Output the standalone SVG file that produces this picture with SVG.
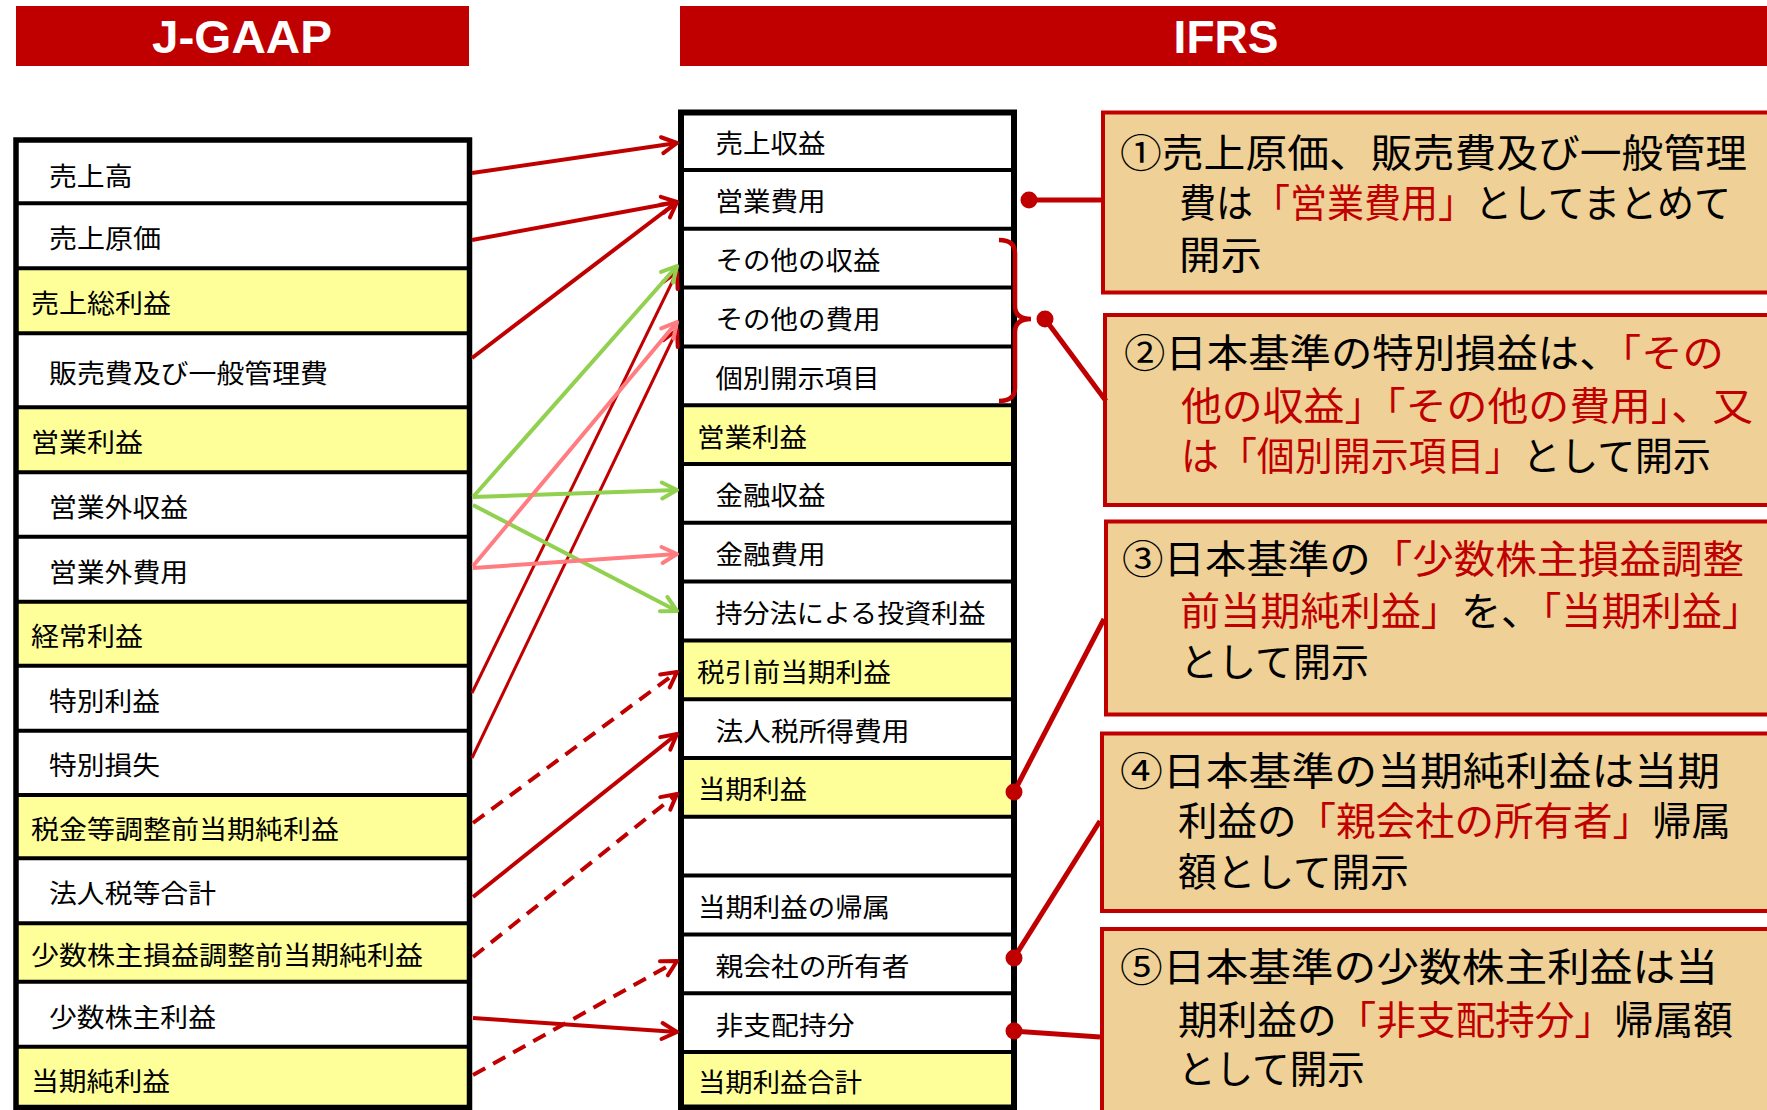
<svg xmlns="http://www.w3.org/2000/svg" width="1767" height="1110" viewBox="0 0 1767 1110">
<defs>
<style>
.t{font-family:"Noto Sans CJK JP","Noto Sans CJK SC",sans-serif;font-size:26px;fill:#000}
.b{font-family:"Noto Sans CJK JP","Noto Sans CJK SC",sans-serif;font-size:39px;fill:#000}
.r{fill:#C00000}
.ban{font-family:"Liberation Sans",Arial,sans-serif;font-size:46px;font-weight:bold;fill:#fff}
.w{fill:#fff}
.y{fill:#FFFF99}
.sep{stroke:#000;stroke-width:4}
.box{fill:#EFD096;stroke:#C00000;stroke-width:4}
.ar{fill:none;stroke:#C00000;stroke-width:4}
.ar3{fill:none;stroke:#C00000;stroke-width:3}
.ad{fill:none;stroke:#C00000;stroke-width:4;stroke-dasharray:14 9}
.ag{fill:none;stroke:#92D050;stroke-width:4}
.ap{fill:none;stroke:#FF7C80;stroke-width:4}
.cn{fill:none;stroke:#C00000;stroke-width:5}
.dot{fill:#C00000}
</style>
<marker id="mr" markerUnits="userSpaceOnUse" viewBox="0 0 20 20" refX="18" refY="10" markerWidth="20" markerHeight="20" orient="auto" overflow="visible"><path d="M3,2 L18,10 L3,18" fill="none" stroke="#C00000" stroke-width="4" stroke-linecap="round" stroke-linejoin="round"/></marker>
<marker id="mg" markerUnits="userSpaceOnUse" viewBox="0 0 20 20" refX="18" refY="10" markerWidth="20" markerHeight="20" orient="auto" overflow="visible"><path d="M3,2 L18,10 L3,18" fill="none" stroke="#92D050" stroke-width="4" stroke-linecap="round" stroke-linejoin="round"/></marker>
<marker id="mp" markerUnits="userSpaceOnUse" viewBox="0 0 20 20" refX="18" refY="10" markerWidth="20" markerHeight="20" orient="auto" overflow="visible"><path d="M3,2 L18,10 L3,18" fill="none" stroke="#FF7C80" stroke-width="4" stroke-linecap="round" stroke-linejoin="round"/></marker>
</defs>
<rect width="1767" height="1110" fill="#fff"/>

<g id="banner-jgaap"><rect x="16" y="6" width="453" height="60" fill="#C00000"/><text class="ban" x="242" y="53" text-anchor="middle" textLength="180" lengthAdjust="spacingAndGlyphs">J-GAAP</text></g>
<g id="banner-ifrs"><rect x="680" y="6" width="1087" height="60" fill="#C00000"/><text class="ban" x="1226" y="53" text-anchor="middle">IFRS</text></g>

<g id="jgaap-table">
<rect class="w" x="16" y="140" width="453" height="64"/>
<rect class="w" x="16" y="203" width="453" height="66"/>
<rect class="y" x="16" y="268" width="453" height="66"/>
<rect class="w" x="16" y="333" width="453" height="75"/>
<rect class="y" x="16" y="407" width="453" height="66"/>
<rect class="w" x="16" y="472" width="453" height="65"/>
<rect class="w" x="16" y="536" width="453" height="66"/>
<rect class="y" x="16" y="601" width="453" height="65"/>
<rect class="w" x="16" y="665" width="453" height="66"/>
<rect class="w" x="16" y="730" width="453" height="65"/>
<rect class="y" x="16" y="795" width="453" height="64"/>
<rect class="w" x="16" y="858" width="453" height="66"/>
<rect class="y" x="16" y="923" width="453" height="59"/>
<rect class="w" x="16" y="981" width="453" height="66"/>
<rect class="y" x="16" y="1046" width="453" height="62"/>
<g class="sep">
<line x1="16" y1="203.3" x2="469" y2="203.3"/><line x1="16" y1="268.3" x2="469" y2="268.3"/><line x1="16" y1="333.3" x2="469" y2="333.3"/><line x1="16" y1="407.3" x2="469" y2="407.3"/><line x1="16" y1="472.3" x2="469" y2="472.3"/><line x1="16" y1="536.7" x2="469" y2="536.7"/><line x1="16" y1="601.7" x2="469" y2="601.7"/><line x1="16" y1="665.7" x2="469" y2="665.7"/><line x1="16" y1="730.7" x2="469" y2="730.7"/><line x1="16" y1="795" x2="469" y2="795"/><line x1="16" y1="858.3" x2="469" y2="858.3"/><line x1="16" y1="923.3" x2="469" y2="923.3"/><line x1="16" y1="981.7" x2="469" y2="981.7"/><line x1="16" y1="1046.7" x2="469" y2="1046.7"/>
</g>
<rect x="16" y="140" width="453.5" height="967.5" fill="none" stroke="#000" stroke-width="5.5"/>
<g id="j-r0"><text class="t" x="49" y="186" textLength="83.5" lengthAdjust="spacingAndGlyphs">売上高</text></g>
<g id="j-r1"><text class="t" x="49" y="248" textLength="112" lengthAdjust="spacingAndGlyphs">売上原価</text></g>
<g id="j-r2"><text class="t" x="31" y="313" textLength="140" lengthAdjust="spacingAndGlyphs">売上総利益</text></g>
<g id="j-r3"><text class="t" x="49" y="383" textLength="279" lengthAdjust="spacingAndGlyphs">販売費及び一般管理費</text></g>
<g id="j-r4"><text class="t" x="31" y="452" textLength="112" lengthAdjust="spacingAndGlyphs">営業利益</text></g>
<g id="j-r5"><text class="t" x="49" y="517" textLength="139" lengthAdjust="spacingAndGlyphs">営業外収益</text></g>
<g id="j-r6"><text class="t" x="49" y="581.5" textLength="139" lengthAdjust="spacingAndGlyphs">営業外費用</text></g>
<g id="j-r7"><text class="t" x="31" y="646" textLength="112" lengthAdjust="spacingAndGlyphs">経常利益</text></g>
<g id="j-r8"><text class="t" x="49" y="710.5" textLength="111" lengthAdjust="spacingAndGlyphs">特別利益</text></g>
<g id="j-r9"><text class="t" x="49" y="775" textLength="111" lengthAdjust="spacingAndGlyphs">特別損失</text></g>
<g id="j-r10"><text class="t" x="31" y="839" textLength="308" lengthAdjust="spacingAndGlyphs">税金等調整前当期純利益</text></g>
<g id="j-r11"><text class="t" x="49" y="903" textLength="167" lengthAdjust="spacingAndGlyphs">法人税等合計</text></g>
<g id="j-r12"><text class="t" x="31" y="965" textLength="392" lengthAdjust="spacingAndGlyphs">少数株主損益調整前当期純利益</text></g>
<g id="j-r13"><text class="t" x="49" y="1027" textLength="167" lengthAdjust="spacingAndGlyphs">少数株主利益</text></g>
<g id="j-r14"><text class="t" x="31" y="1091" textLength="139" lengthAdjust="spacingAndGlyphs">当期純利益</text></g>
</g>

<g id="ifrs-table">
<rect class="w" x="681" y="112" width="333" height="995"/>
<rect class="y" x="681" y="405.2" width="333" height="58.8"/>
<rect class="y" x="681" y="640.4" width="333" height="58.8"/>
<rect class="y" x="681" y="758" width="333" height="58.8"/>
<rect class="y" x="681" y="1052" width="333" height="56"/>
<g class="sep">
<line x1="681" y1="170" x2="1014" y2="170"/><line x1="681" y1="228.8" x2="1014" y2="228.8"/><line x1="681" y1="287.6" x2="1014" y2="287.6"/><line x1="681" y1="346.4" x2="1014" y2="346.4"/><line x1="681" y1="405.2" x2="1014" y2="405.2"/><line x1="681" y1="464" x2="1014" y2="464"/><line x1="681" y1="522.8" x2="1014" y2="522.8"/><line x1="681" y1="581.6" x2="1014" y2="581.6"/><line x1="681" y1="640.4" x2="1014" y2="640.4"/><line x1="681" y1="699.2" x2="1014" y2="699.2"/><line x1="681" y1="758" x2="1014" y2="758"/><line x1="681" y1="816.8" x2="1014" y2="816.8"/><line x1="681" y1="875.6" x2="1014" y2="875.6"/><line x1="681" y1="934.4" x2="1014" y2="934.4"/><line x1="681" y1="993.2" x2="1014" y2="993.2"/><line x1="681" y1="1052" x2="1014" y2="1052"/>
</g>
<rect x="681" y="112.5" width="333" height="995" fill="none" stroke="#000" stroke-width="6"/>
<g id="i-r0"><text class="t" x="715.5" y="153" textLength="110" lengthAdjust="spacingAndGlyphs">売上収益</text></g>
<g id="i-r1"><text class="t" x="715.5" y="211.4" textLength="110" lengthAdjust="spacingAndGlyphs">営業費用</text></g>
<g id="i-r2"><text class="t" x="715.5" y="270.2" textLength="165" lengthAdjust="spacingAndGlyphs">その他の収益</text></g>
<g id="i-r3"><text class="t" x="715.5" y="329" textLength="165" lengthAdjust="spacingAndGlyphs">その他の費用</text></g>
<g id="i-r4"><text class="t" x="715.5" y="387.8" textLength="164" lengthAdjust="spacingAndGlyphs">個別開示項目</text></g>
<g id="i-r5"><text class="t" x="697" y="446.6" textLength="110" lengthAdjust="spacingAndGlyphs">営業利益</text></g>
<g id="i-r6"><text class="t" x="715.5" y="505.4" textLength="110" lengthAdjust="spacingAndGlyphs">金融収益</text></g>
<g id="i-r7"><text class="t" x="715.5" y="564.2" textLength="110" lengthAdjust="spacingAndGlyphs">金融費用</text></g>
<g id="i-r8"><text class="t" x="715.5" y="623" textLength="270" lengthAdjust="spacingAndGlyphs">持分法による投資利益</text></g>
<g id="i-r9"><text class="t" x="697" y="681.8" textLength="194" lengthAdjust="spacingAndGlyphs">税引前当期利益</text></g>
<g id="i-r10"><text class="t" x="715.5" y="740.6" textLength="194" lengthAdjust="spacingAndGlyphs">法人税所得費用</text></g>
<g id="i-r11"><text class="t" x="698" y="799.4" textLength="109" lengthAdjust="spacingAndGlyphs">当期利益</text></g>
<g id="i-r13"><text class="t" x="698" y="917" textLength="192" lengthAdjust="spacingAndGlyphs">当期利益の帰属</text></g>
<g id="i-r14"><text class="t" x="715.5" y="975.8" textLength="194" lengthAdjust="spacingAndGlyphs">親会社の所有者</text></g>
<g id="i-r15"><text class="t" x="715.5" y="1034.6" textLength="139" lengthAdjust="spacingAndGlyphs">非支配持分</text></g>
<g id="i-r16"><text class="t" x="698" y="1092" textLength="164" lengthAdjust="spacingAndGlyphs">当期利益合計</text></g>
</g>

<g id="note1"><rect class="box" x="1103" y="112.5" width="700" height="180"/>
<text class="b" x="1120" y="167" textLength="627" lengthAdjust="spacingAndGlyphs">①売上原価、販売費及び一般管理</text>
<text class="b" x="1179" y="217" textLength="552" lengthAdjust="spacingAndGlyphs">費は<tspan class="r">「営業費用」</tspan>としてまとめて</text>
<text class="b" x="1179" y="269" textLength="83" lengthAdjust="spacingAndGlyphs">開示</text></g>

<g id="note2"><rect class="box" x="1105" y="315" width="700" height="190"/>
<text class="b" x="1124" y="367" textLength="600" lengthAdjust="spacingAndGlyphs">②日本基準の特別損益は、<tspan class="r">「その</tspan></text>
<text class="b r" x="1181" y="420" textLength="572" lengthAdjust="spacingAndGlyphs">他の収益」「その他の費用」、又</text>
<text class="b" x="1181" y="470" textLength="530" lengthAdjust="spacingAndGlyphs"><tspan class="r">は「個別開示項目」</tspan>として開示</text></g>

<g id="note3"><rect class="box" x="1106" y="521.5" width="700" height="193"/>
<text class="b" x="1122" y="573" textLength="622" lengthAdjust="spacingAndGlyphs">③日本基準の<tspan class="r">「少数株主損益調整</tspan></text>
<text class="b" x="1180" y="625" textLength="582" lengthAdjust="spacingAndGlyphs"><tspan class="r">前当期純利益」</tspan>を、<tspan class="r">「当期利益」</tspan></text>
<text class="b" x="1180" y="676" textLength="189" lengthAdjust="spacingAndGlyphs">として開示</text></g>

<g id="note4"><rect class="box" x="1102" y="733.5" width="700" height="177.5"/>
<text class="b" x="1120" y="785" textLength="600" lengthAdjust="spacingAndGlyphs">④日本基準の当期純利益は当期</text>
<text class="b" x="1178" y="835" textLength="553" lengthAdjust="spacingAndGlyphs">利益の<tspan class="r">「親会社の所有者」</tspan>帰属</text>
<text class="b" x="1178" y="886" textLength="231" lengthAdjust="spacingAndGlyphs">額として開示</text></g>

<g id="note5"><rect class="box" x="1102" y="929" width="700" height="200"/>
<text class="b" x="1120" y="981" textLength="598" lengthAdjust="spacingAndGlyphs">⑤日本基準の少数株主利益は当</text>
<text class="b" x="1178" y="1034" textLength="555" lengthAdjust="spacingAndGlyphs">期利益の<tspan class="r">「非支配持分」</tspan>帰属額</text>
<text class="b" x="1178" y="1083" textLength="187" lengthAdjust="spacingAndGlyphs">として開示</text></g>

<g id="connectors">
<line class="ar" x1="472" y1="173" x2="677" y2="143" marker-end="url(#mr)"/>
<line class="ar" x1="472" y1="240" x2="677" y2="202" marker-end="url(#mr)"/>
<line class="ar" x1="472" y1="358" x2="677" y2="202" marker-end="url(#mr)"/>
<line class="ar3" x1="472" y1="693" x2="677" y2="272" marker-end="url(#mr)"/>
<line class="ar3" x1="472" y1="758" x2="677" y2="330" marker-end="url(#mr)"/>
<line class="ag" x1="473" y1="497" x2="677" y2="266" marker-end="url(#mg)"/>
<line class="ag" x1="473" y1="497" x2="677" y2="490" marker-end="url(#mg)"/>
<line class="ag" x1="473" y1="505" x2="677" y2="611" marker-end="url(#mg)"/>
<line class="ap" x1="473" y1="568" x2="677" y2="554" marker-end="url(#mp)"/>
<line class="ap" x1="473" y1="566" x2="677" y2="322" marker-end="url(#mp)"/>
<line class="ad" x1="473" y1="823" x2="677" y2="672" marker-end="url(#mr)"/>
<line class="ar" x1="473" y1="897" x2="677" y2="734" marker-end="url(#mr)"/>
<line class="ad" x1="473" y1="957" x2="677" y2="794" marker-end="url(#mr)"/>
<line class="ar" x1="473" y1="1018" x2="677" y2="1032" marker-end="url(#mr)"/>
<line class="ad" x1="473" y1="1075" x2="677" y2="961" marker-end="url(#mr)"/>
<path d="M999,240 Q1015,240 1015,253 L1015,306 Q1015,319 1031,319 Q1015,319 1015,332 L1015,388 Q1015,401 999,401" fill="none" stroke="#C00000" stroke-width="4.5"/>
<line class="cn" x1="1029" y1="200" x2="1103" y2="200"/><circle class="dot" cx="1029" cy="200" r="8.5"/>
<line class="cn" x1="1045" y1="319" x2="1106" y2="401"/><circle class="dot" cx="1045" cy="319" r="8.5"/>
<line class="cn" x1="1014" y1="792" x2="1104" y2="619"/><circle class="dot" cx="1014" cy="792" r="8.5"/>
<line class="cn" x1="1014" y1="958" x2="1100" y2="821"/><circle class="dot" cx="1014" cy="958" r="8.5"/>
<line class="cn" x1="1014" y1="1031" x2="1100" y2="1037"/><circle class="dot" cx="1014" cy="1031" r="8.5"/>
</g>
</svg>
